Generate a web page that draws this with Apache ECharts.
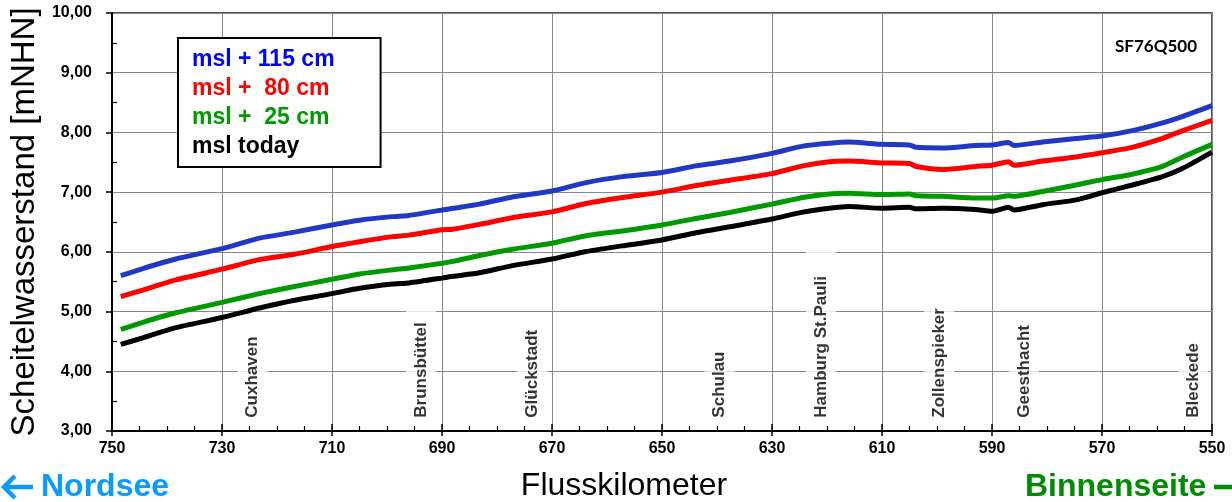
<!DOCTYPE html>
<html>
<head>
<meta charset="utf-8">
<script src="https://cdn.jsdelivr.net/npm/echarts@6/dist/echarts.min.js"></script>
<style>
html,body{margin:0;padding:0;background:#fff;}
#chart{width:1232px;height:502px;}
</style>
</head>
<body>
<div id="chart"></div>
<script>
// ---- data ----
const km = [748.4, 744.4, 738.4, 730, 723.2, 716.8, 710, 705, 699, 696,
            690, 688, 683.2, 677.2, 670, 663.8, 657.2, 650, 643.8, 637.7,
            630, 624.4, 619.6, 616, 610, 605, 603.8, 599, 593, 590,
            587, 586, 580.8, 574.7, 570, 564.5, 559, 555.3, 550];
const msl115 = [5.60, 5.72, 5.88, 6.055, 6.23, 6.33, 6.45, 6.53, 6.59, 6.61,
                6.70, 6.73, 6.80, 6.92, 7.02, 7.16, 7.26, 7.33, 7.44, 7.52,
                7.65, 7.77, 7.82, 7.84, 7.80, 7.79, 7.75, 7.74, 7.78, 7.79,
                7.83, 7.78, 7.84, 7.90, 7.94, 8.03, 8.16, 8.27, 8.45];
const msl80 = [5.25, 5.36, 5.53, 5.71, 5.87, 5.96, 6.09, 6.17, 6.255, 6.28,
               6.37, 6.38, 6.46, 6.57, 6.67, 6.81, 6.91, 7.00, 7.11, 7.20,
               7.31, 7.44, 7.51, 7.52, 7.49, 7.48, 7.43, 7.38, 7.43, 7.45,
               7.51, 7.45, 7.52, 7.59, 7.66, 7.75, 7.90, 8.03, 8.20];
const msl25 = [4.70, 4.82, 4.98, 5.155, 5.30, 5.42, 5.54, 5.63, 5.70, 5.73,
               5.81, 5.84, 5.94, 6.045, 6.145, 6.27, 6.35, 6.45, 6.56, 6.66,
               6.80, 6.91, 6.97, 6.98, 6.96, 6.97, 6.94, 6.93, 6.90, 6.90,
               6.94, 6.93, 7.01, 7.12, 7.21, 7.30, 7.43, 7.59, 7.80];
const mslToday = [4.45, 4.56, 4.73, 4.90, 5.06, 5.19, 5.30, 5.39, 5.46, 5.48,
                  5.56, 5.59, 5.65, 5.77, 5.88, 6.005, 6.10, 6.20, 6.32, 6.42,
                  6.55, 6.665, 6.73, 6.76, 6.73, 6.745, 6.72, 6.73, 6.71, 6.68,
                  6.745, 6.70, 6.79, 6.87, 6.99, 7.12, 7.26, 7.40, 7.67];
const seriesNames = ['msl + 115 cm', 'msl +  80 cm', 'msl +  25 cm', 'msl today'];
const stationNames = ['Cuxhaven', 'Brunsbüttel', 'Glückstadt', 'Schulau',
                      'Hamburg St.Pauli', 'Zollenspieker', 'Geesthacht', 'Bleckede'];
const stationKm = [724.4, 693.8, 673.6, 639.5, 621.1, 599.6, 584.2, 553.4];
const stationLabelLevel = 3.19;
const xTitle = 'Flusskilometer';
const yTitle = 'Scheitelwasserstand [mNHN]';
const scenarioTag = 'SF76Q500';
const seaSide = 'Nordsee';
const inlandSide = 'Binnenseite';

// ---- chart ----
const FONT = '"Liberation Sans", Arial, sans-serif';
const colors = ['#2138c4', '#ff0000', '#009900', '#000000'];
const textColors = ['#0000ff', '#ff0000', '#009900', '#000000'];
const values = [msl115, msl80, msl25, mslToday];
const SEA_BLUE = '#0a9bff';
const INLAND_GREEN = '#008c00';
// extra white box length at the text end of some station labels (style only)
const labelEndPad = { 'Hamburg St.Pauli': 24, 'Brunsbüttel': 16 };

const pair = arr => km.map((k, i) => [k, arr[i]]);
const fmtY = v => v.toFixed(2).replace('.', ',');

const lineSeries = seriesNames.map((n, i) => ({
  name: n,
  type: 'line',
  xAxisIndex: 0, yAxisIndex: 0,
  data: pair(values[i]),
  showSymbol: false,
  symbol: 'none',
  smooth: 0.2,
  lineStyle: { color: colors[i], width: 5 },
  itemStyle: { color: colors[i] },
  z: 5 - i
}));

const stationSeries = {
  type: 'scatter',
  xAxisIndex: 0, yAxisIndex: 0,
  symbolSize: 0,
  silent: true,
  z: 10,
  data: stationNames.map((n, i) => {
    const item = { value: [stationKm[i], stationLabelLevel], name: n };
    if (labelEndPad[n]) item.label = { padding: [5, labelEndPad[n], 5, 2] };
    return item;
  }),
  label: {
    show: true,
    position: [0, 0],
    rotate: 90,
    align: 'left',
    verticalAlign: 'middle',
    formatter: p => p.name,
    fontFamily: FONT,
    fontWeight: 'bold',
    fontSize: 17,
    lineHeight: 20,
    color: '#000',
    backgroundColor: '#fff',
    padding: [5, 9, 5, 2]
  }
};

const chart = echarts.init(document.getElementById('chart'), null, { renderer: 'canvas' });
chart.setOption({
  backgroundColor: '#fff',
  animation: false,
  grid: {
    left: 112, right: 20, top: 13, bottom: 71,
    show: true, borderColor: '#222', borderWidth: 1.5, backgroundColor: 'transparent'
  },
  legend: {
    data: seriesNames.map((n, i) => ({ name: n, textStyle: { color: textColors[i] } })),
    orient: 'vertical',
    left: 178, top: 38,
    icon: 'none',
    itemWidth: 0, itemHeight: 10,
    itemGap: 6,
    padding: [10, 46, 9, 9],
    borderColor: '#000', borderWidth: 2,
    backgroundColor: '#fff',
    selectedMode: false,
    textStyle: { fontFamily: FONT, fontWeight: 'bold', fontSize: 23, lineHeight: 22 }
  },
  xAxis: [{
    type: 'value', inverse: true, min: 550, max: 750, interval: 20,
    position: 'bottom',
    axisLine: { show: true, onZero: false, lineStyle: { color: '#000', width: 2 } },
    axisTick: { show: true, inside: false, length: 5, lineStyle: { color: '#000', width: 1.5 } },
    axisLabel: { show: true, margin: 10, fontFamily: FONT, fontWeight: 'bold', fontSize: 16, color: '#000' },
    splitLine: { show: true, lineStyle: { color: '#888', width: 1 } }
  }, {
    type: 'value', inverse: true, min: 550, max: 750, interval: 20,
    position: 'bottom',
    axisLine: { show: false, onZero: false },
    axisTick: { show: true, inside: true, length: 7, lineStyle: { color: '#000', width: 1.5 } },
    minorTick: { show: true, splitNumber: 4, length: 5, lineStyle: { color: '#000', width: 1.2 } },
    axisLabel: { show: false },
    splitLine: { show: false }
  }],
  yAxis: [{
    type: 'value', min: 3, max: 10, interval: 1,
    position: 'left',
    name: yTitle,
    nameLocation: 'middle',
    nameGap: 64,
    nameTextStyle: { fontFamily: FONT, fontSize: 33, color: '#000' },
    axisLine: { show: true, onZero: false, lineStyle: { color: '#000', width: 2 } },
    axisTick: { show: true, inside: false, length: 6, lineStyle: { color: '#000', width: 1.5 } },
    axisLabel: { show: true, margin: 20, formatter: fmtY, fontFamily: FONT, fontWeight: 'bold', fontSize: 16, color: '#000' },
    splitLine: { show: true, lineStyle: { color: '#888', width: 1 } }
  }, {
    type: 'value', min: 3, max: 10, interval: 1,
    position: 'left',
    axisLine: { show: false, onZero: false },
    axisTick: { show: false, inside: true },
    minorTick: { show: true, splitNumber: 2, length: 5, lineStyle: { color: '#000', width: 1.2 } },
    axisLabel: { show: false },
    splitLine: { show: false }
  }],
  graphic: [
    { type: 'text', style: { text: scenarioTag, x: 1197, y: 47, align: 'right', verticalAlign: 'middle',
      font: 'bold 17px Lato, "Liberation Sans", sans-serif', fill: '#000' } },
    { type: 'text', style: { text: xTitle, x: 624, y: 486, align: 'center', verticalAlign: 'middle',
      font: '32px ' + FONT, fill: '#000' } },
    // left arrow + Nordsee
    { type: 'polyline', shape: { points: [[4, 487], [33, 487]] },
      style: { stroke: SEA_BLUE, lineWidth: 4.5, fill: null } },
    { type: 'polyline', shape: { points: [[15, 476], [4, 487], [15, 498]] },
      style: { stroke: SEA_BLUE, lineWidth: 4.5, fill: null, lineJoin: 'miter' } },
    { type: 'text', style: { text: seaSide, x: 41, y: 487, align: 'left', verticalAlign: 'middle',
      font: 'bold 32px ' + FONT, fill: SEA_BLUE } },
    // Binnenseite + right arrow (cut at the edge)
    { type: 'text', style: { text: inlandSide, x: 1025, y: 487, align: 'left', verticalAlign: 'middle',
      font: 'bold 32px ' + FONT, fill: INLAND_GREEN } },
    { type: 'polyline', shape: { points: [[1214, 487], [1245, 487]] },
      style: { stroke: INLAND_GREEN, lineWidth: 4.5, fill: null } }
  ],
  series: lineSeries.concat([stationSeries])
});
</script>
</body>
</html>
